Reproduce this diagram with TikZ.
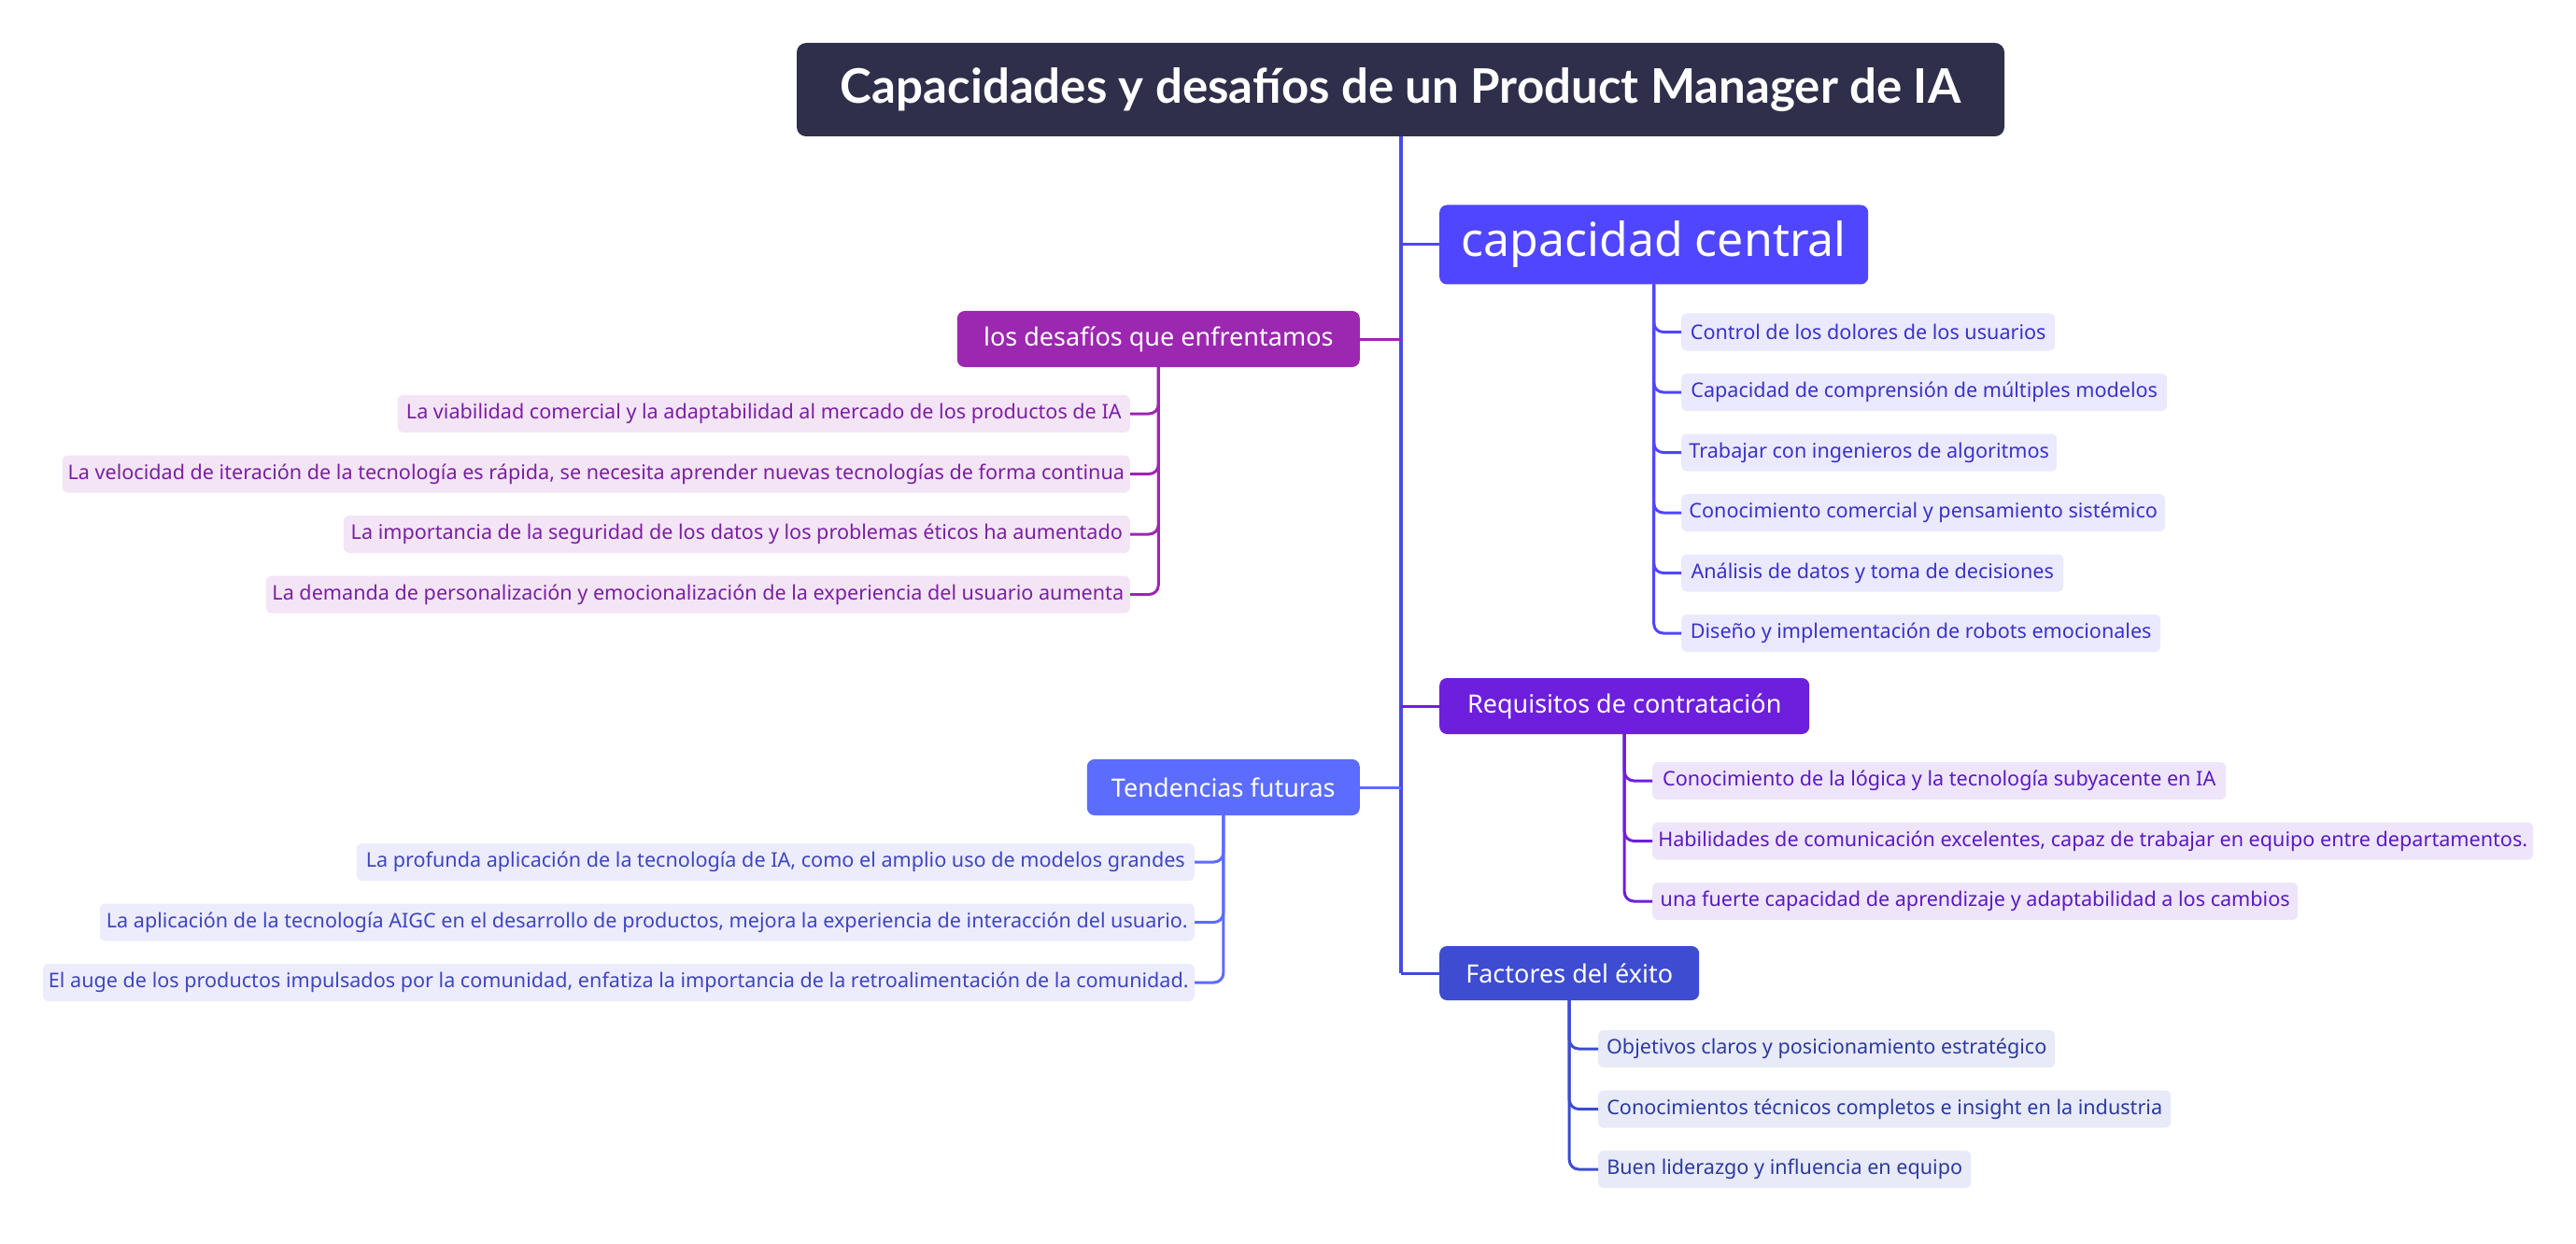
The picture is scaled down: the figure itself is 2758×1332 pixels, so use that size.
\documentclass[tikz,border=0pt]{standalone}
\usepackage{fontspec}
\setmainfont{Noto Sans}
\newfontfamily\titlefont{Lato}
\usepackage{tikz}
\definecolor{MMTitle}{HTML}{2F2F4B}
\definecolor{MMTrunk}{HTML}{4A4AE2}
\definecolor{MMCore}{HTML}{5046FF}
\definecolor{MMCoreFill}{HTML}{EBE9FE}
\definecolor{MMCoreText}{HTML}{3A32C8}
\definecolor{MMChal}{HTML}{9C27B0}
\definecolor{MMChalFill}{HTML}{F3E5F5}
\definecolor{MMChalText}{HTML}{7B1FA2}
\definecolor{MMReq}{HTML}{6D1FDD}
\definecolor{MMReqFill}{HTML}{EEE5FA}
\definecolor{MMReqText}{HTML}{5A1AC2}
\definecolor{MMTrend}{HTML}{5B6CFF}
\definecolor{MMTrendFill}{HTML}{ECECFD}
\definecolor{MMTrendText}{HTML}{3F45C0}
\definecolor{MMKey}{HTML}{3D4CD0}
\definecolor{MMKeyFill}{HTML}{E8EAF8}
\definecolor{MMKeyText}{HTML}{2C3A9E}
\tikzset{
  topic/.style={rounded corners=8pt,text=white,inner sep=0pt,minimum height=60pt,font=\fontsize{27}{32}\selectfont},
  leaf/.style={rounded corners=6pt,inner sep=0pt,minimum height=40pt,font=\fontsize{21.6}{26}\selectfont},
  link/.style={line width=3pt,rounded corners=10pt},
}

\begin{document}
\begin{tikzpicture}[x=1pt,y=-1pt]
\path[use as bounding box,fill=white] (0,0) rectangle (2758,1332);
% root and main topics
\node[fill=MMTitle,rounded corners=10pt,text=white,inner sep=0pt,minimum width=1293pt,minimum height=100pt,font=\titlefont\bfseries\fontsize{51}{60}\selectfont] (title) at (1499.5,96) {Capacidades y desafíos de un Product Manager de IA};
\node[topic,fill=MMCore,anchor=west,minimum width=459pt,minimum height=85pt,font=\fontsize{50}{60}\selectfont] (core) at (1541,262) {capacidad central};
\node[topic,fill=MMChal,anchor=east,minimum width=431pt] (chal) at (1456,363) {los desafíos que enfrentamos};
\node[topic,fill=MMReq,anchor=west,minimum width=396pt] (req) at (1541,756) {Requisitos de contratación};
\node[topic,fill=MMTrend,anchor=east,minimum width=292pt] (trend) at (1456,843) {Tendencias futuras};
\node[topic,fill=MMKey,anchor=west,minimum width=278pt,minimum height=58pt] (key) at (1541,1042) {Factores del éxito};
% trunk
\draw[MMTrunk,line width=4pt] (title.south) -- (title.south |- key.west);
\draw[link,MMCore] (title.south |- core.west) -- (core.west);
\draw[link,MMChal] (title.south |- chal.east) -- (chal.east);
\draw[link,MMReq] (title.south |- req.west) -- (req.west);
\draw[link,MMTrend] (title.south |- trend.east) -- (trend.east);
\draw[link,MMKey] (title.south |- key.west) -- (key.west);
% capacidad central
\node[leaf,fill=MMCoreFill,text=MMCoreText,anchor=west,minimum width=400pt] (core1) at (1800,355.5) {Control de los dolores de los usuarios};
\node[leaf,fill=MMCoreFill,text=MMCoreText,anchor=west,minimum width=520pt] (core2) at (1800,420) {Capacidad de comprensión de múltiples modelos};
\node[leaf,fill=MMCoreFill,text=MMCoreText,anchor=west,minimum width=402pt] (core3) at (1800,484.5) {Trabajar con ingenieros de algoritmos};
\node[leaf,fill=MMCoreFill,text=MMCoreText,anchor=west,minimum width=518pt] (core4) at (1800,549) {Conocimiento comercial y pensamiento sistémico};
\node[leaf,fill=MMCoreFill,text=MMCoreText,anchor=west,minimum width=409pt] (core5) at (1800,613.5) {Análisis de datos y toma de decisiones};
\node[leaf,fill=MMCoreFill,text=MMCoreText,anchor=west,minimum width=513pt] (core6) at (1800,678) {Diseño y implementación de robots emocionales};
\foreach \i in {1,...,6}
  \draw[link,MMCore] (core.south) |- (core\i.west);
% desafios
\node[leaf,fill=MMChalFill,text=MMChalText,anchor=east,minimum width=784pt] (chal1) at (1210,443) {La viabilidad comercial y la adaptabilidad al mercado de los productos de IA};
\node[leaf,fill=MMChalFill,text=MMChalText,anchor=east,minimum width=1143pt] (chal2) at (1210,507.5) {La velocidad de iteración de la tecnología es rápida, se necesita aprender nuevas tecnologías de forma continua};
\node[leaf,fill=MMChalFill,text=MMChalText,anchor=east,minimum width=842pt] (chal3) at (1210,572) {La importancia de la seguridad de los datos y los problemas éticos ha aumentado};
\node[leaf,fill=MMChalFill,text=MMChalText,anchor=east,minimum width=925pt] (chal4) at (1210,636.5) {La demanda de personalización y emocionalización de la experiencia del usuario aumenta};
\foreach \i in {1,...,4}
  \draw[link,MMChal] (chal.south) |- (chal\i.east);
% requisitos
\node[leaf,fill=MMReqFill,text=MMReqText,anchor=west,minimum width=614pt] (req1) at (1769,836) {Conocimiento de la lógica y la tecnología subyacente en IA};
\node[leaf,fill=MMReqFill,text=MMReqText,anchor=west,minimum width=943pt] (req2) at (1769,900.5) {Habilidades de comunicación excelentes, capaz de trabajar en equipo entre departamentos.};
\node[leaf,fill=MMReqFill,text=MMReqText,anchor=west,minimum width=691pt] (req3) at (1769,965) {una fuerte capacidad de aprendizaje y adaptabilidad a los cambios};
\foreach \i in {1,...,3}
  \draw[link,MMReq] (req.south) |- (req\i.west);
% tendencias
\node[leaf,fill=MMTrendFill,text=MMTrendText,anchor=east,minimum width=897pt] (trend1) at (1279,923) {La profunda aplicación de la tecnología de IA, como el amplio uso de modelos grandes};
\node[leaf,fill=MMTrendFill,text=MMTrendText,anchor=east,minimum width=1172pt] (trend2) at (1279,987.5) {La aplicación de la tecnología AIGC en el desarrollo de productos, mejora la experiencia de interacción del usuario.};
\node[leaf,fill=MMTrendFill,text=MMTrendText,anchor=east,minimum width=1233pt] (trend3) at (1279,1052) {El auge de los productos impulsados por la comunidad, enfatiza la importancia de la retroalimentación de la comunidad.};
\foreach \i in {1,...,3}
  \draw[link,MMTrend] (trend.south) |- (trend\i.east);
% factores
\node[leaf,fill=MMKeyFill,text=MMKeyText,anchor=west,minimum width=489pt] (key1) at (1711,1123) {Objetivos claros y posicionamiento estratégico};
\node[leaf,fill=MMKeyFill,text=MMKeyText,anchor=west,minimum width=613pt] (key2) at (1711,1187.5) {Conocimientos técnicos completos e insight en la industria};
\node[leaf,fill=MMKeyFill,text=MMKeyText,anchor=west,minimum width=399pt] (key3) at (1711,1252) {Buen liderazgo y influencia en equipo};
\foreach \i in {1,...,3}
  \draw[link,MMKey] (key.south) |- (key\i.west);
\end{tikzpicture}
\end{document}
